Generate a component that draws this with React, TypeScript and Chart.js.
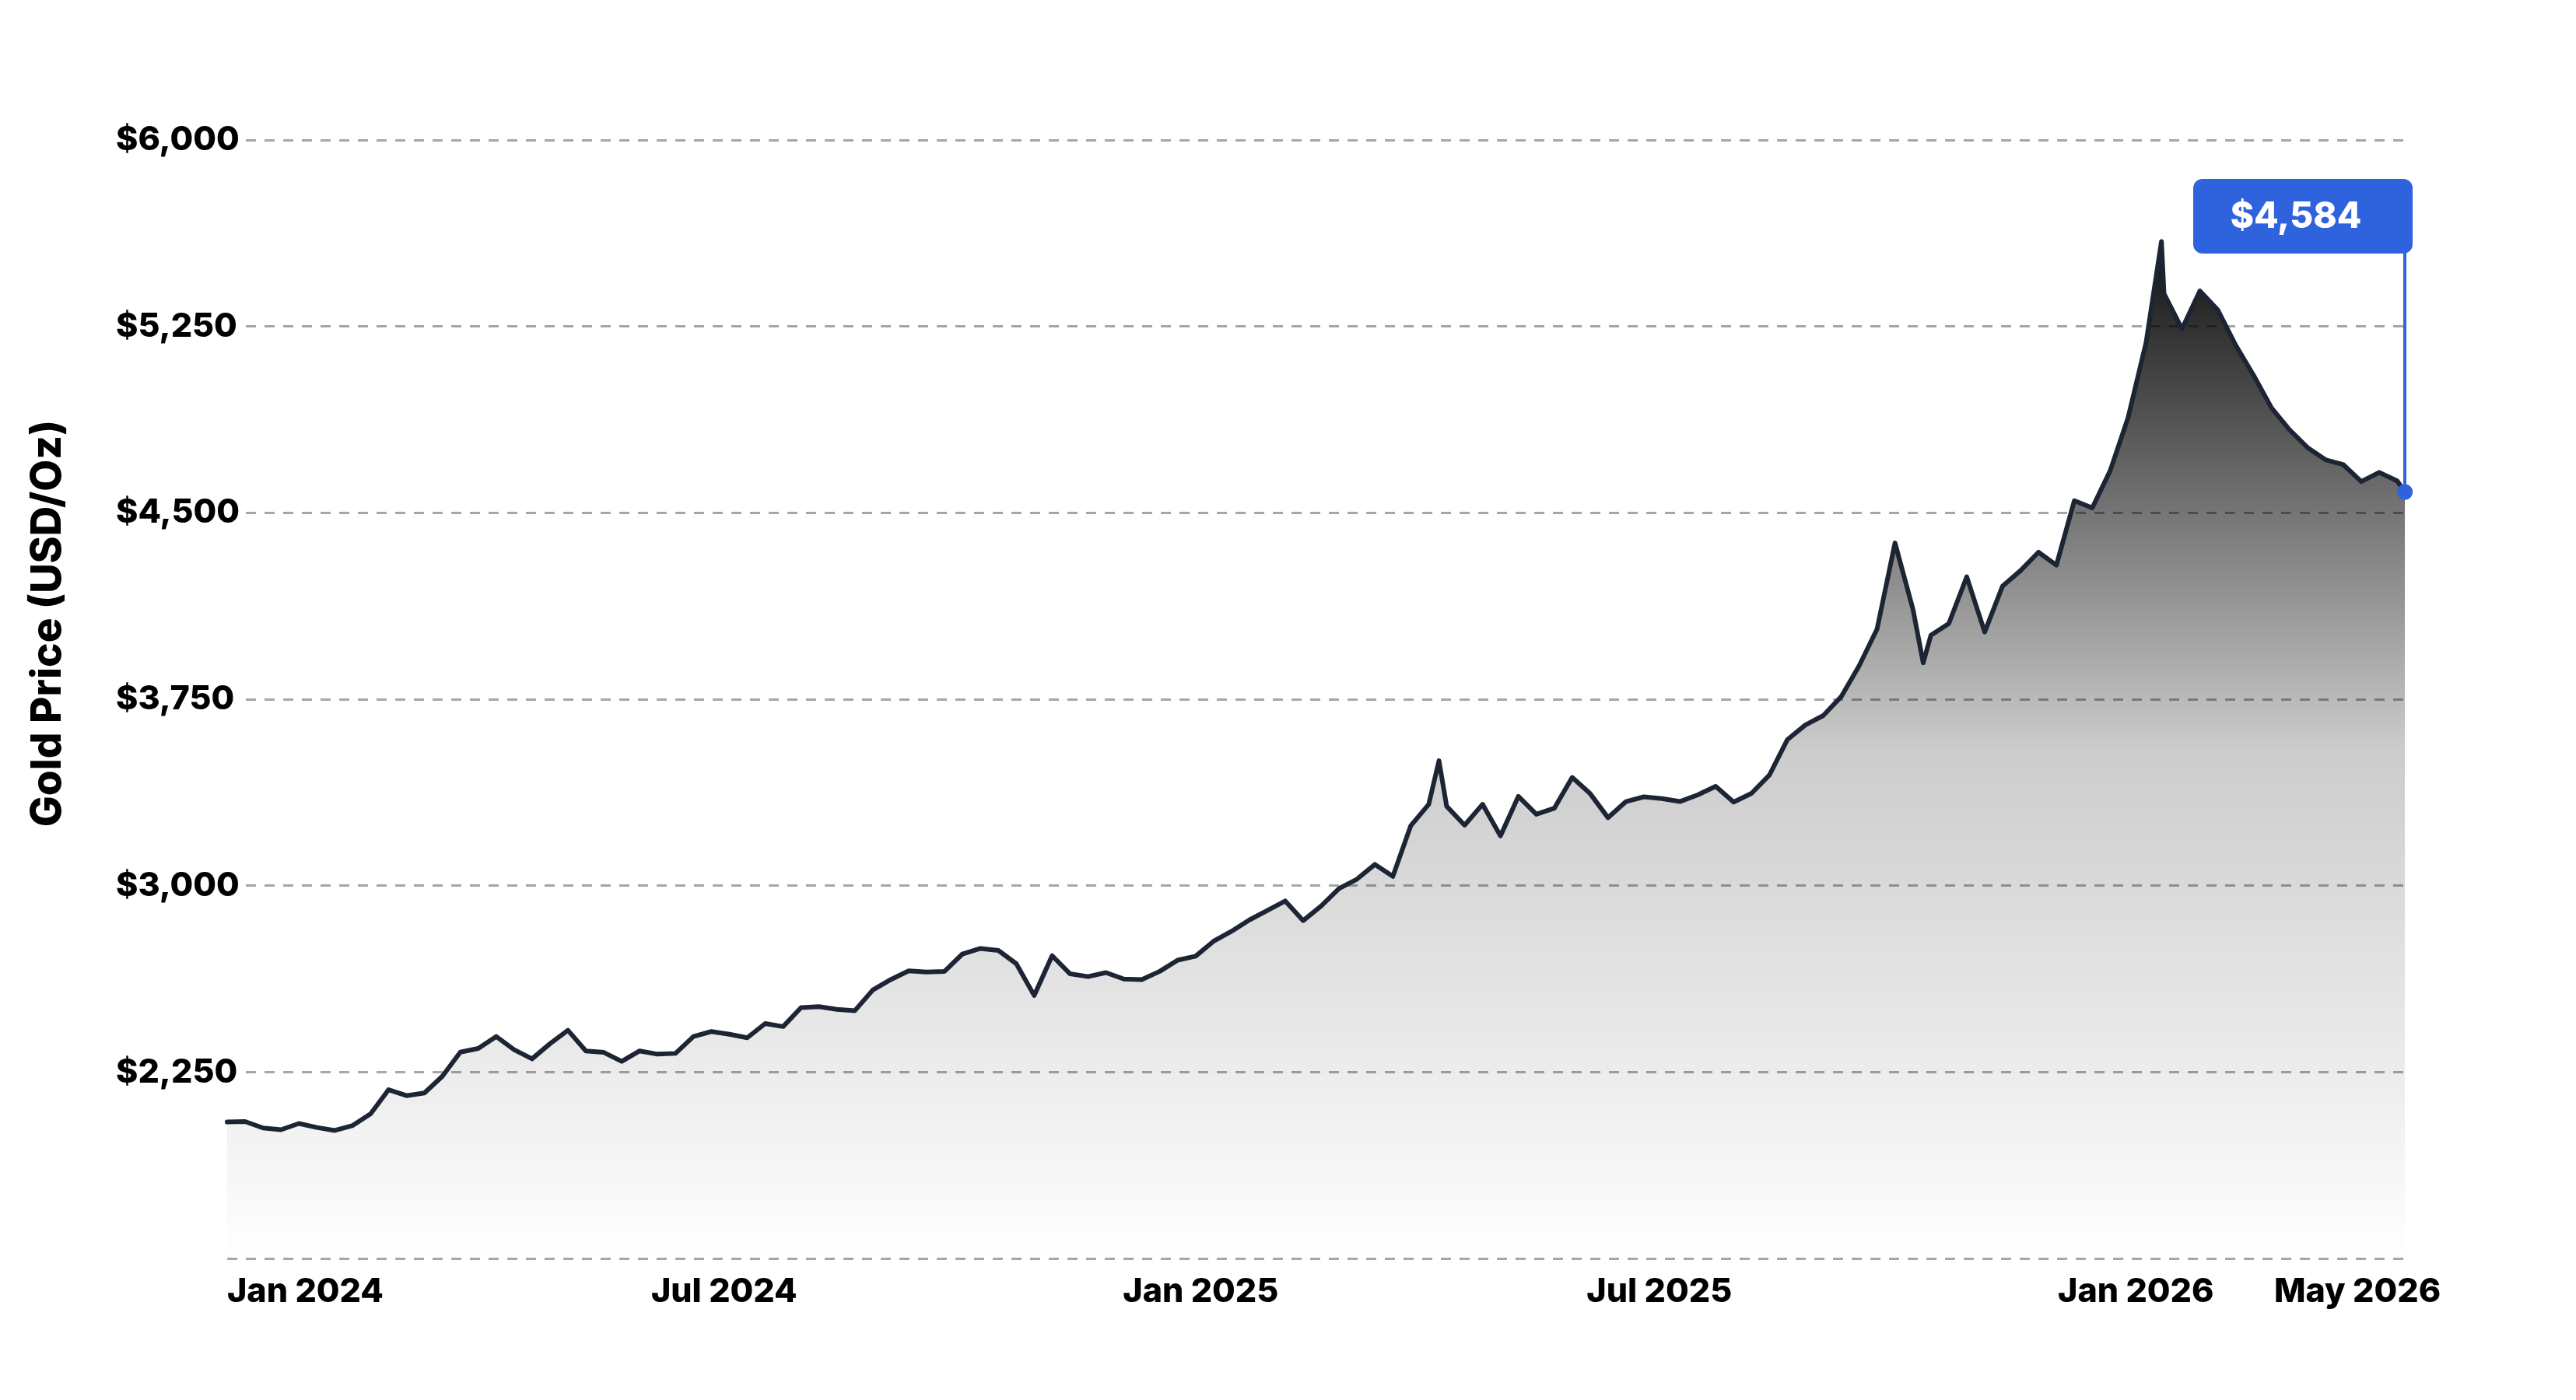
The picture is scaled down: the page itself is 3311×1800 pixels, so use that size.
import React, { useEffect, useRef } from "react";
import { Chart, registerables } from "chart.js";

Chart.register(...registerables);

// ---- data ----
const START_DATE = "2024-01-05"; // first weekly close (Fridays)
const weeklyPrices = [
  2050, 2052, 2026, 2019, 2044, 2028, 2016, 2036, 2083, 2180,
  2156, 2167, 2234, 2331, 2346, 2394, 2341, 2304, 2365, 2419,
  2336, 2330, 2294, 2336, 2323, 2326, 2394, 2414, 2403, 2389,
  2446, 2434, 2510, 2514, 2503, 2498, 2581, 2623, 2658, 2653,
  2656, 2726, 2748, 2740, 2687, 2559, 2719, 2646, 2635, 2651,
  2625, 2623, 2656, 2701, 2717, 2777, 2817, 2863, 2901, 2939,
  2860, 2919, 2989, 3027, 3086, 3038, 3242, 3328, 3320, 3244,
  3328, 3201, 3360, 3288, 3312, 3436, 3371, 3274, 3339, 3358,
  3351, 3339, 3366, 3400, 3337, 3372, 3446, 3588, 3647, 3685,
  3761, 3885, 4033, 4379, 4113, 4008, 4055, 4243, 4021, 4206,
  4268, 4342, 4290, 4549, 4520, 4670, 4884, 5185, 5382, 5240,
  5393, 5316, 5174, 5053, 4922, 4834, 4763, 4714, 4694, 4626,
  4663, 4629,
];
const extraDates = ["2025-04-22", "2025-10-28", "2026-01-29", "2026-05-04"];
const extraPrices = [3503, 3897, 5592, 4584];

const xTickDates = ["2024-01-05", "2024-07-17", "2025-01-19", "2025-07-17", "2026-01-19", "2026-05-18"];
const xTickLabels = ["Jan 2024", "Jul 2024", "Jan 2025", "Jul 2025", "Jan 2026", "May 2026"];
const yTicks = [1500, 2250, 3000, 3750, 4500, 5250, 6000];

const Y_TITLE = "Gold Price (USD/Oz)";
const FONT = "Inter, 'Liberation Sans', Arial, sans-serif";
const BLUE = "#2f62dd";

const DAY = 86400000;
const startMs = Date.parse(START_DATE + "T00:00:00Z");
const dayOf = (d: string) => Math.round((Date.parse(d + "T00:00:00Z") - startMs) / DAY);

function buildPoints() {
  const pts: { x: number; y: number }[] = weeklyPrices.map((p, i) => ({ x: i * 7, y: p }));
  extraDates.forEach((d, i) => pts.push({ x: dayOf(d), y: extraPrices[i] }));
  pts.sort((a, b) => a.x - b.x);
  return pts;
}

export default function App() {
  const canvasRef = useRef<HTMLCanvasElement | null>(null);

  useEffect(() => {
    const canvas = canvasRef.current;
    if (!canvas) return;
    const points = buildPoints();
    const lastIndex = points.length - 1;
    const maxVal = Math.max(...points.map((p) => p.y));

    const annotationPlugin = {
      id: "lastValueFlag",
      afterDatasetsDraw(chart: any) {
        const { ctx, chartArea } = chart;
        const meta = chart.getDatasetMeta(0);
        const el = meta.data[lastIndex];
        if (!el) return;
        const x = el.x;
        const y = el.y;
        const boxH = 96;
        const boxW = 282;
        const boxTop = chartArea.top + 50;
        const boxRight = x + 10;
        const boxLeft = boxRight - boxW;
        ctx.save();
        ctx.strokeStyle = BLUE;
        ctx.lineWidth = 4;
        ctx.beginPath();
        ctx.moveTo(x, boxTop + boxH - 2);
        ctx.lineTo(x, y);
        ctx.stroke();
        ctx.fillStyle = BLUE;
        ctx.beginPath();
        ctx.roundRect(boxLeft, boxTop, boxW, boxH, 12);
        ctx.fill();
        ctx.beginPath();
        ctx.arc(x, y, 10, 0, Math.PI * 2);
        ctx.fill();
        ctx.fillStyle = "#ffffff";
        ctx.font = `800 46px ${FONT}`;
        ctx.textAlign = "center";
        ctx.textBaseline = "middle";
        const v = points[lastIndex].y;
        ctx.fillText("$" + v.toLocaleString("en-US"), x - 140, boxTop + boxH / 2 + 1);
        ctx.restore();
      },
    };

    const titlePlugin = {
      id: "yTitle",
      afterDraw(chart: any) {
        const { ctx, chartArea } = chart;
        const cy = chartArea.top + (chartArea.bottom - chartArea.top) * 0.432;
        ctx.save();
        ctx.translate(62, cy);
        ctx.rotate(-Math.PI / 2);
        ctx.fillStyle = "#000";
        ctx.font = `800 53px ${FONT}`;
        ctx.textAlign = "center";
        ctx.textBaseline = "middle";
        ctx.fillText(Y_TITLE, 0, 0);
        ctx.restore();
      },
    };

    const chart = new Chart(canvas, {
      type: "line",
      data: {
        datasets: [
          {
            data: points,
            borderColor: "#1d2535",
            borderWidth: 6,
            borderJoinStyle: "round",
            borderCapStyle: "round",
            fill: "start",
            backgroundColor: (c: any) => {
              const { chart: ch } = c;
              const { chartArea, scales } = ch;
              if (!chartArea) return "rgba(0,0,0,0.2)";
              const top = scales.y.getPixelForValue(maxVal);
              const g = ch.ctx.createLinearGradient(0, top, 0, chartArea.bottom);
              g.addColorStop(0, "rgba(0,0,0,0.93)");
              g.addColorStop(0.5, "rgba(0,0,0,0.2)");
              g.addColorStop(1, "rgba(0,0,0,0)");
              return g;
            },
            pointRadius: (c: any) => (c.dataIndex === lastIndex ? 10 : 0),
            pointBackgroundColor: BLUE,
            pointBorderWidth: 0,
            pointHoverRadius: 0,
            tension: 0,
            clip: false,
          } as any,
        ],
      },
      options: {
        animation: false,
        responsive: true,
        maintainAspectRatio: false,
        events: [],
        layout: { padding: { top: 180, right: 220, bottom: 104, left: 0 } },
        plugins: { legend: { display: false }, tooltip: { enabled: false }, title: { display: false } },
        scales: {
          x: {
            type: "linear",
            min: 0,
            max: points[lastIndex].x,
            bounds: "data",
            grid: { display: false },
            border: { display: false },
            afterBuildTicks: (scale: any) => {
              scale.ticks = xTickDates.map((d) => ({ value: dayOf(d) }));
            },
            ticks: {
              autoSkip: false,
              maxRotation: 0,
              minRotation: 0,
              align: "inner",
              padding: 9,
              color: "#000",
              font: { family: FONT, size: 43, weight: "800" },
              callback: (_v: any, i: number) => xTickLabels[i],
            },
          },
          y: {
            min: 1500,
            max: 6000,
            afterBuildTicks: (scale: any) => {
              scale.ticks = yTicks.map((v) => ({ value: v }));
            },
            afterFit: (scale: any) => {
              scale.width = 292;
            },
            grid: { color: "#a3a6ae", lineWidth: 3, drawTicks: false },
            border: { display: false, dash: [13, 11] },
            ticks: {
              mirror: true,
              crossAlign: "near",
              padding: -143,
              color: "#000",
              font: { family: FONT, size: 43, weight: "800" },
              callback: (v: any) => (v === 1500 ? "" : "$" + Number(v).toLocaleString("en-US")),
              showLabelBackdrop: (c: any) => !!c.tick && c.tick.value !== 1500,
              backdropColor: "#ffffff",
              backdropPadding: { left: 4, right: 7, top: 0, bottom: 0 },
            },
          },
        },
      } as any,
      plugins: [annotationPlugin, titlePlugin],
    });

    return () => chart.destroy();
  }, []);

  return (
    <div style={{ position: "absolute", left: 0, top: 0, width: 3311, height: 1800, background: "#fff" }}>
      <canvas ref={canvasRef} />
    </div>
  );
}
